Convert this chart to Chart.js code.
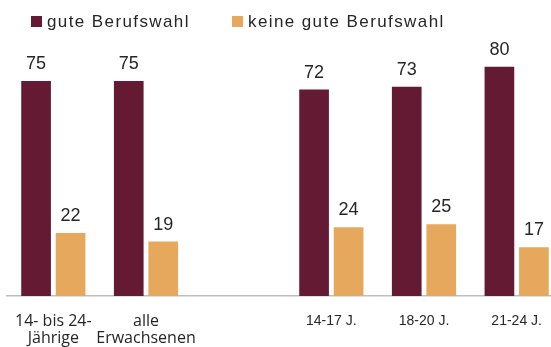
<!DOCTYPE html>
<html lang="de">
<head>
<meta charset="utf-8">
<title>Berufswahl</title>
<script src="https://cdn.jsdelivr.net/npm/chart.js@4/dist/chart.umd.min.js"></script>
<style>
  html, body { margin: 0; padding: 0; background: #fff; overflow: hidden; }
  #wrap { position: relative; width: 563px; height: 347px; }
  .legend { position: absolute; top: 12px; left: 0; font: 17px "Liberation Sans", Arial, sans-serif; letter-spacing: 1.4px; color: #262626; }
  .legend span.item { position: absolute; white-space: nowrap; line-height: 19px; }
  .legend i { display: inline-block; width: 11px; height: 11px; margin-right: 5px; vertical-align: 0px; }
</style>
</head>
<body>
<div id="wrap">
  <canvas id="myChart"></canvas>
  <div class="legend" id="legend"></div>
</div>
<script>
let categories = [["14- bis 24-", "Jährige"], ["alle", "Erwachsenen"], "", "14-17 J.", "18-20 J.", "21-24 J."];
let seriesNames = ["gute Berufswahl", "keine gute Berufswahl"];
let guteBerufswahl = [75, 75, null, 72, 73, 80];
let keineGuteBerufswahl = [22, 19, null, 24, 25, 17];
let seriesColors = ["#631A32", "#E6A85C"];
let legendLeft = [31, 232];

let chart = null;
const textColor = "#262626";
const fontFamily = '"Liberation Sans", Arial, sans-serif';

// values above each bar
const valueLabels = {
    id: 'valueLabels',
    afterDatasetsDraw(c) {
        const ctx = c.ctx;
        ctx.save();
        ctx.font = `18px ${fontFamily}`;
        ctx.fillStyle = textColor;
        ctx.textAlign = 'center';
        ctx.textBaseline = 'alphabetic';
        c.data.datasets.forEach((ds, i) => {
            c.getDatasetMeta(i).data.forEach((bar, j) => {
                if (ds.data[j] == null) return;
                ctx.fillText(String(ds.data[j]), bar.x, bar.y - 12);
            });
        });
        ctx.restore();
    }
};

function buildLegend() {
    let html = '';
    for (let i = 0; i < seriesNames.length; i++) {
        html += `<span class="item" style="left:${legendLeft[i]}px"><i style="background:${seriesColors[i]}"></i>${seriesNames[i]}</span>`;
    }
    document.getElementById('legend').innerHTML = html;
}

// the two overall groups use a different label font than the age groups
function tickFont(ctx) {
    if (ctx.index < 2) return { family: '"Open Sans", sans-serif', size: 16, lineHeight: 17 / 16 };
    return { family: fontFamily, size: 14, lineHeight: 1.2 };
}

function createChart() {
    chart = new Chart("myChart", {
        type: "bar",
        data: {
            labels: categories,
            datasets: [{
                label: seriesNames[0],
                data: guteBerufswahl,
                backgroundColor: seriesColors[0]
            }, {
                label: seriesNames[1],
                data: keineGuteBerufswahl,
                backgroundColor: seriesColors[1]
            }]
        },
        options: {
            responsive: true,
            maintainAspectRatio: false,
            animation: false,
            categoryPercentage: 0.745,
            barPercentage: 0.86,
            layout: { padding: { left: 7, right: 0, top: 38, bottom: 0 } },
            plugins: {
                legend: { display: false },
                tooltip: { enabled: false }
            },
            scales: {
                x: {
                    grid: { display: false, drawTicks: false },
                    border: { display: true, color: "#BDBDC4", width: 1.5 },
                    ticks: {
                        color: textColor,
                        font: tickFont,
                        padding: 17,
                        maxRotation: 0,
                        autoSkip: false
                    },
                    afterFit(scale) {
                        scale.height = 51;
                        scale.paddingLeft = 0;
                        scale.paddingRight = 0;
                    }
                },
                y: {
                    display: false,
                    min: 0,
                    max: 90
                }
            }
        },
        plugins: [valueLabels]
    });
}

buildLegend();
createChart();
</script>
</body>
</html>
